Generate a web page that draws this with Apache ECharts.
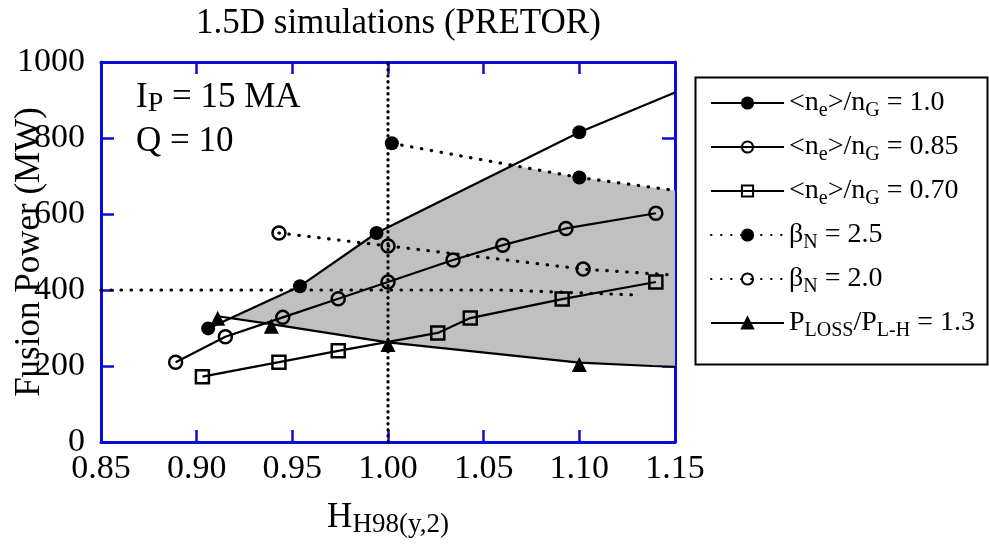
<!DOCTYPE html>
<html>
<head>
<meta charset="utf-8">
<script src="https://cdn.jsdelivr.net/npm/echarts@6/dist/echarts.min.js"></script>
<style>
  html, body { margin: 0; padding: 0; background: #fff; }
  #chart { width: 989px; height: 546px; }
</style>
</head>
<body>
<div id="chart"></div>
<script>
// Fusion power vs confinement factor, 1.5D PRETOR simulations
const FONT = 'Liberation Serif';
const AXIS_BLUE = '#0b0bdc';

// Axis ranges and ticks
const hMin = 0.85, hMax = 1.15, hStep = 0.05;
const pMin = 0, pMax = 1000, pStep = 200;

// <ne>/nG = 1.0 (filled circles, solid); the line runs on to the frame
const ne10H = [0.906, 0.954, 0.994, 1.100];
const ne10P = [299, 410, 550, 815];
const ne10End = [1.150, 920];

// <ne>/nG = 0.85 (open circles, solid)
const ne085H = [0.889, 0.915, 0.945, 0.974, 1.000, 1.034, 1.060, 1.093, 1.140];
const ne085P = [210, 277, 328, 377, 421, 479, 518, 562, 602];

// <ne>/nG = 0.70 (open squares, solid)
const ne070H = [0.903, 0.943, 0.974, 1.026, 1.043, 1.091, 1.140];
const ne070P = [172, 210, 240, 287, 326, 376, 421];

// beta_N = 2.5 (filled circles, dotted)
const beta25H = [1.002, 1.100];
const beta25P = [786, 696];
const beta25End = [1.150, 662];

// beta_N = 2.0 (open circles, dotted)
const beta20H = [0.943, 1.000, 1.102];
const beta20P = [550, 516, 455];
const beta20End = [1.150, 439];

// P_LOSS / P_L-H = 1.3 (filled triangles, solid)
const plossH = [0.911, 0.939, 1.000, 1.100];
const plossP = [331, 310, 262, 209];
const plossTailH = [1.138, 1.150];
const plossTailP = [200, 198];

// Operating window (grey region)
const windowH = [0.9176, 0.954, 0.994, 1.065, 1.100, 1.150, 1.150, 1.138, 1.100, 1.000, 0.939];
const windowP = [326, 410, 550, 728, 696, 662, 198, 200, 209, 262, 310];

// Reference lines: H = 1.0 and P = 400 MW
const refVH = [1.0, 1.0];
const refVP = [0, 1000];
const refHH = [0.85, 1.06, 1.13];
const refHP = [400, 400, 387];

const pairs = (xs, ys) => xs.map((x, i) => [x, ys[i]]);
const tail = (pt) => ({ value: pt, symbol: 'none' });

const solid = { color: '#000', width: 2.2, type: 'solid' };
const dotted = { color: '#000', width: 3.2, type: [0.5, 9.5], cap: 'round' };
const filled = { color: '#000', borderColor: '#000', borderWidth: 0 };
const hollow = { color: 'rgba(0,0,0,0)', borderColor: '#000', borderWidth: 2.5 };

const legendText = {
  ne10: '{m|<n}{s|e}{m|>/n}{s|G}{m| = 1.0}',
  ne085: '{m|<n}{s|e}{m|>/n}{s|G}{m| = 0.85}',
  ne070: '{m|<n}{s|e}{m|>/n}{s|G}{m| = 0.70}',
  beta25: '{m|β}{s|N}{m| = 2.5}',
  beta20: '{m|β}{s|N}{m| = 2.0}',
  ploss: '{m|P}{s|LOSS}{m|/P}{s|L-H}{m| = 1.3}'
};

const chart = echarts.init(document.getElementById('chart'), null, { renderer: 'canvas' });

const option = {
  animation: false,
  backgroundColor: '#fff',
  textStyle: { fontFamily: FONT, color: '#000' },
  title: {
    text: '1.5D simulations (PRETOR)',
    left: 196,
    top: 6,
    padding: 0,
    textStyle: { fontFamily: FONT, fontSize: 35, fontWeight: 'normal', color: '#000' }
  },
  grid: { left: 101, right: 314, top: 62, bottom: 104, containLabel: false, outerBoundsMode: 'none' },
  legend: {
    orient: 'vertical',
    left: 710,
    top: 89,
    padding: 0,
    itemWidth: 73,
    itemHeight: 14,
    itemGap: 12,
    selectedMode: false,
    data: Object.keys(legendText),
    formatter: (name) => legendText[name],
    itemStyle: { borderColor: '#000', borderWidth: 2 },
    textStyle: {
      fontFamily: FONT,
      color: '#000',
      rich: {
        m: { fontFamily: FONT, fontSize: 28, lineHeight: 36, verticalAlign: 'middle', color: '#000' },
        s: { fontFamily: FONT, fontSize: 20, lineHeight: 18, verticalAlign: 'bottom', color: '#000' }
      }
    }
  },
  graphic: [
    {
      type: 'rect',
      left: 693, top: 75,
      shape: { width: 292, height: 287 },
      style: { fill: 'none', stroke: '#000', lineWidth: 2 },
      silent: true
    },
    {
      type: 'text',
      left: 136, top: 80,
      style: {
        text: '{m|I}{s|P}{m| = 15 MA}',
        rich: {
          m: { fontFamily: FONT, fontSize: 35, lineHeight: 40, verticalAlign: 'middle', fill: '#000' },
          s: { fontFamily: FONT, fontSize: 28, lineHeight: 26, verticalAlign: 'bottom', fill: '#000' }
        }
      },
      silent: true
    },
    {
      type: 'text',
      left: 136, top: 124,
      style: { text: 'Q = 10', font: '35px "Liberation Serif"', fill: '#000' },
      silent: true
    }
  ],
  xAxis: [
    {
      type: 'value', position: 'bottom',
      min: hMin, max: hMax, interval: hStep,
      name: '{m|H}{s|H98(y,2)}',
      nameLocation: 'middle',
      nameGap: 56,
      nameMoveOverlap: false,
      nameTextStyle: {
        rich: {
          m: { fontFamily: FONT, fontSize: 35, lineHeight: 40, verticalAlign: 'middle', color: '#000' },
          s: { fontFamily: FONT, fontSize: 27, lineHeight: 26, verticalAlign: 'bottom', color: '#000' }
        }
      },
      splitLine: { show: false },
      axisLine: { show: true, onZero: false, lineStyle: { color: AXIS_BLUE, width: 3 } },
      axisTick: { show: true, inside: true, length: 12, lineStyle: { color: AXIS_BLUE, width: 2.5 } },
      axisLabel: {
        margin: 10, fontFamily: FONT, fontSize: 34, color: '#000',
        formatter: (v) => v.toFixed(2)
      }
    },
    {
      type: 'value', position: 'top',
      min: hMin, max: hMax, interval: hStep,
      splitLine: { show: false },
      axisLine: { show: true, onZero: false, lineStyle: { color: AXIS_BLUE, width: 3 } },
      axisTick: { show: true, inside: true, length: 12, lineStyle: { color: AXIS_BLUE, width: 2.5 } },
      axisLabel: { show: false }
    }
  ],
  yAxis: [
    {
      type: 'value', position: 'left',
      min: pMin, max: pMax, interval: pStep,
      name: 'Fusion Power (MW)',
      nameLocation: 'middle',
      nameGap: 54,
      nameMoveOverlap: false,
      nameTextStyle: { fontFamily: FONT, fontSize: 35, color: '#000' },
      splitLine: { show: false },
      axisLine: { show: true, onZero: false, lineStyle: { color: AXIS_BLUE, width: 3 } },
      axisTick: { show: true, inside: true, length: 13, lineStyle: { color: AXIS_BLUE, width: 2.5 } },
      axisLabel: {
        margin: 16, fontFamily: FONT, fontSize: 34, color: '#000',
        formatter: (v) => String(v)
      }
    },
    {
      type: 'value', position: 'right',
      min: pMin, max: pMax, interval: pStep,
      splitLine: { show: false },
      axisLine: { show: true, onZero: false, lineStyle: { color: AXIS_BLUE, width: 3 } },
      axisTick: { show: true, inside: true, length: 13, lineStyle: { color: AXIS_BLUE, width: 2.5 } },
      axisLabel: { show: false }
    }
  ],
  series: [
    {
      type: 'custom',
      name: 'window',
      silent: true,
      z: 1,
      data: pairs(windowH, windowP),
      renderItem: (params, api) => {
        if (params.dataIndex !== 0) return null;
        const pts = windowH.map((h, i) => api.coord([h, windowP[i]]));
        return { type: 'polygon', shape: { points: pts }, style: { fill: '#c0c0c0' } };
      }
    },
    {
      type: 'line', name: 'refV', silent: true, z: 2,
      symbol: 'none', data: pairs(refVH, refVP),
      lineStyle: { color: '#000', width: 3.2, type: [0.5, 5.5], cap: 'round' }
    },
    {
      type: 'line', name: 'refH', silent: true, z: 2,
      symbol: 'none', data: pairs(refHH, refHP),
      lineStyle: dotted
    },
    {
      type: 'line', name: 'beta25', z: 3,
      symbol: 'circle', symbolSize: 14,
      data: pairs(beta25H, beta25P).concat([tail(beta25End)]),
      lineStyle: dotted, itemStyle: filled
    },
    {
      type: 'line', name: 'beta20', z: 3,
      symbol: 'circle', symbolSize: 13,
      data: pairs(beta20H, beta20P).concat([tail(beta20End)]),
      lineStyle: dotted, itemStyle: hollow
    },
    {
      type: 'line', name: 'ne10', z: 4,
      symbol: 'circle', symbolSize: 14,
      data: pairs(ne10H, ne10P).concat([tail(ne10End)]),
      lineStyle: solid, itemStyle: filled
    },
    {
      type: 'line', name: 'ne085', z: 4,
      symbol: 'circle', symbolSize: 13,
      data: pairs(ne085H, ne085P),
      lineStyle: solid, itemStyle: hollow
    },
    {
      type: 'line', name: 'ne070', z: 4,
      symbol: 'rect', symbolSize: 13,
      data: pairs(ne070H, ne070P),
      lineStyle: solid, itemStyle: hollow
    },
    {
      type: 'line', name: 'ploss', z: 4,
      symbol: 'triangle', symbolSize: 15, symbolOffset: [0, 2],
      data: pairs(plossH, plossP).concat(pairs(plossTailH, plossTailP).map((p) => tail(p))),
      lineStyle: solid, itemStyle: filled
    }
  ]
};

chart.setOption(option);
</script>
</body>
</html>
